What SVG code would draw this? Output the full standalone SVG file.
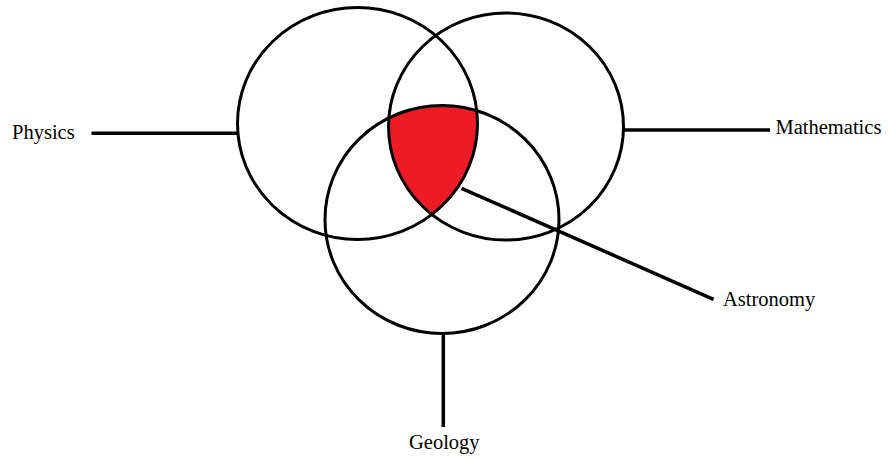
<svg xmlns="http://www.w3.org/2000/svg" width="889" height="459" viewBox="0 0 889 459">
<style>
.ring{fill:none;stroke:#000;stroke-width:3}
.conn{stroke:#000;stroke-width:3.5;fill:none}
.lbl{font-family:"Liberation Serif","Times New Roman",serif;font-size:20.5px;fill:#000}
</style>
<defs>
<clipPath id="cP"><ellipse cx="357.5" cy="123.5" rx="120" ry="116"/></clipPath>
<clipPath id="cM"><ellipse cx="506" cy="126.5" rx="117.5" ry="113.5"/></clipPath>
</defs>
<g id="astronomy-region" clip-path="url(#cP)">
<ellipse cx="442" cy="219.5" rx="117" ry="114" fill="#ED1C24" clip-path="url(#cM)"/>
</g>
<g id="physics"><ellipse class="ring" cx="357.5" cy="123.5" rx="120" ry="116"/><text class="lbl" x="12" y="139">Physics</text></g>
<g id="mathematics"><ellipse class="ring" cx="506" cy="126.5" rx="117.5" ry="113.5"/><text class="lbl" x="775.5" y="133.5">Mathematics</text></g>
<g id="geology"><ellipse class="ring" cx="442" cy="219.5" rx="117" ry="114"/><text class="lbl" x="409" y="448.5">Geology</text></g>
<g id="astronomy"><text class="lbl" x="723" y="306">Astronomy</text></g>
<g id="connectors">
<line class="conn" x1="91.5" y1="133.3" x2="237" y2="133.3"/>
<line class="conn" x1="624" y1="130" x2="770" y2="130"/>
<line class="conn" x1="443.3" y1="333" x2="443.3" y2="427"/>
<line class="conn" x1="461.5" y1="188.3" x2="713.5" y2="299.3"/>
</g>
</svg>
